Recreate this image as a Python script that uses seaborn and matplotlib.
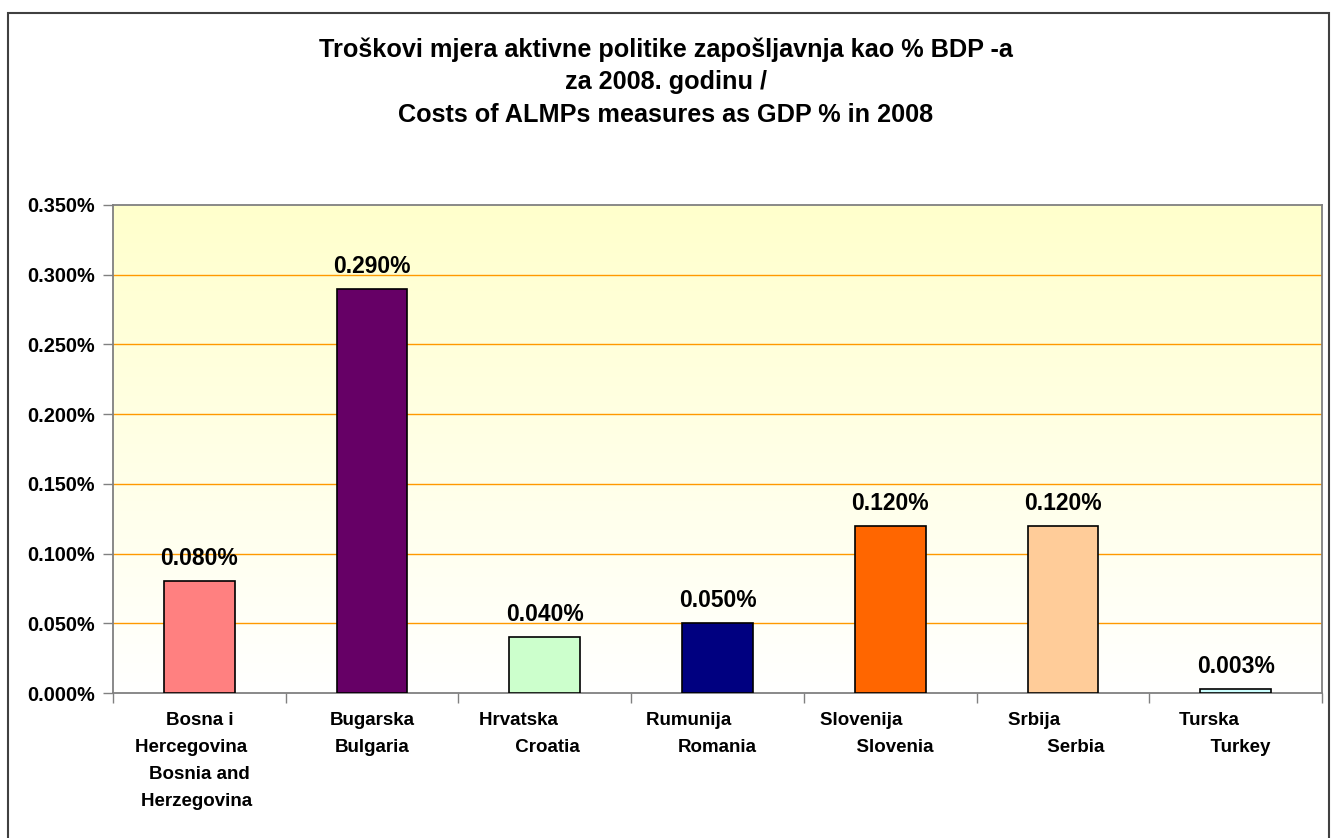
import numpy as np
import pandas as pd
import matplotlib
matplotlib.use("Agg")
import matplotlib.pyplot as plt
import seaborn as sns
from matplotlib.patches import Rectangle
from matplotlib.ticker import FixedLocator
from matplotlib.colors import LinearSegmentedColormap

categories = [
    "Bosna i\nHercegovina   \nBosnia and\nHerzegovina ",
    "Bugarska\nBulgaria",
    "Hrvatska" + " " * 10 + "\n" + " " * 1 + "Croatia",
    "Rumunija" + " " * 11 + "\n" + "Romania",
    "Slovenija" + " " * 11 + "\n" + " " * 2 + "Slovenia",
    "Srbija" + " " * 11 + "\n" + " " * 5 + "Serbia",
    "Turska" + " " * 10 + "\n" + " " * 2 + "Turkey",
]
values = [0.080, 0.290, 0.040, 0.050, 0.120, 0.120, 0.003]
value_labels = ["0.080%", "0.290%", "0.040%", "0.050%", "0.120%", "0.120%", "0.003%"]
colors = ["#FF8080", "#660066", "#CCFFCC", "#000080", "#FF6600", "#FFCC99", "#CCFFFF"]
yticks = [0.0, 0.05, 0.10, 0.15, 0.20, 0.25, 0.30, 0.35]
ytick_labels = ["0.000%", "0.050%", "0.100%", "0.150%", "0.200%", "0.250%", "0.300%", "0.350%"]
title = ("Troškovi mjera aktivne politike zapošljavnja kao % BDP -a\n"
         "za 2008. godinu /\n"
         "Costs of ALMPs measures as GDP % in 2008")

sns.set_theme(style="white")
plt.rcParams["font.family"] = ["Liberation Sans", "DejaVu Sans"]
plt.rcParams["font.weight"] = "bold"
plt.rcParams["text.color"] = "black"
plt.rcParams["xtick.color"] = "black"
plt.rcParams["ytick.color"] = "black"

fig = plt.figure(figsize=(13.32, 8.38), dpi=100)
ax = fig.add_axes([113/1332, 1 - 693/838, (1322-113)/1332, (693-205)/838])

df = pd.DataFrame({"cat": categories, "val": values})
sns.barplot(data=df, x="cat", y="val", hue="cat", palette=colors, legend=False,
            saturation=1, width=0.41, edgecolor="black", linewidth=1.2, ax=ax, zorder=3)

ax.set_ylim(0, 0.35)
ax.set_xlim(-0.5, len(categories) - 0.5)

# gradient background
grad = np.linspace(0, 1, 256).reshape(-1, 1)
cmap = LinearSegmentedColormap.from_list("bg", ["#FFFFFF", "#FFFFCC"])
ax.imshow(grad, extent=[0, 1, 0, 1], transform=ax.transAxes, cmap=cmap,
          aspect="auto", origin="lower", zorder=0)

for y in yticks[1:-1]:
    ax.axhline(y, color="#FF9900", linewidth=1.0, zorder=1)

ax.set_yticks(yticks)
ax.set_yticklabels(ytick_labels, fontsize=14.3, fontweight="bold", color="black")
ax.tick_params(axis="y", left=True, length=7, width=1, color="#808080", pad=6)
ax.set_xticks(range(len(categories)))
ax.set_xticklabels(categories, fontsize=13.5, fontweight="bold", linespacing=1.76,
                   va="top", ha="center", color="black")
ax.tick_params(axis="x", which="major", length=0, pad=14)
ax.xaxis.set_minor_locator(FixedLocator(np.arange(-0.5, len(categories), 1.0)))
ax.tick_params(axis="x", which="minor", bottom=True, length=7, width=1, color="#808080")
ax.set_xlabel("")
ax.set_ylabel("")

for s in ax.spines.values():
    s.set_visible(True)
    s.set_color("#808080")
    s.set_linewidth(1.3)

for i, (v, lab) in enumerate(zip(values, value_labels)):
    ax.annotate(lab, (i, v), xytext=(0, 8), textcoords="offset points",
                ha="center", va="bottom", fontsize=16.5, fontweight="bold",
                color="black", zorder=5)

fig.text(0.5, 1 - 82/838, title, ha="center", va="center", fontsize=18.2,
         fontweight="bold", linespacing=1.45, color="black")

fig.patches.append(Rectangle((8/1332, -0.05), (1329-8)/1332, 1.05 - 13/838,
                             transform=fig.transFigure, fill=False,
                             edgecolor="#404040", linewidth=1.5))

fig.savefig("out.png", dpi=100)
